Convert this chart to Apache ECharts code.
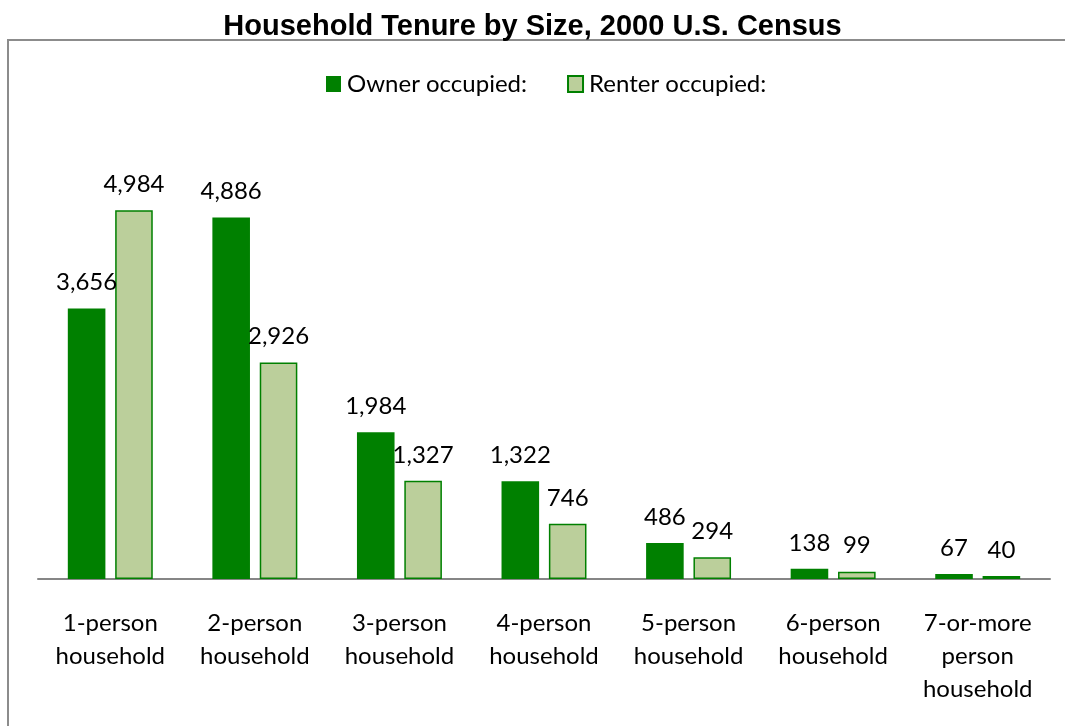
<!DOCTYPE html>
<html>
<head>
<meta charset="utf-8">
<script src="https://cdn.jsdelivr.net/npm/echarts@6/dist/echarts.min.js"></script>
<style>
    html, body { margin: 0; padding: 0; background: #fff; }
    #chart { width: 1065px; height: 726px; }
</style>
</head>
<body>
<div id="chart"></div>
<script>
    // 数据
    var categories = ['1-person\nhousehold', '2-person\nhousehold', '3-person\nhousehold', '4-person\nhousehold',
        '5-person\nhousehold', '6-person\nhousehold', '7-or-more\nperson\nhousehold'];
    var ownerValues = [3656, 4886, 1984, 1322, 486, 138, 67];
    var renterValues = [4984, 2926, 1327, 746, 294, 99, 40];

    var myChart = echarts.init(document.getElementById('chart'));
    var labelStyle = {
        show: true,
        position: 'top',
        distance: 14,
        color: '#000',
        fontFamily: 'Lato',
        fontSize: 24,
        formatter: function (p) { return p.value.toLocaleString('en-US'); }
    };
    var option = {
        animation: false,
        title: {
            text: 'Household Tenure by Size, 2000 U.S. Census',
            left: 'center',
            top: 7,
            textStyle: { fontFamily: 'Liberation Sans', fontWeight: 'bold', fontSize: 29, color: '#000' }
        },
        // 外框
        graphic: [{
            type: 'rect',
            shape: { x: 8, y: 40, width: 1070, height: 700 },
            style: { fill: 'none', stroke: '#8c8c8c', lineWidth: 2 },
            silent: true
        }],
        legend: {
            top: 67,
            left: 321,
            icon: 'rect',
            itemWidth: 15,
            itemHeight: 16,
            itemGap: 40,
            textStyle: { fontFamily: 'Lato', fontSize: 24, color: '#000', padding: [0, 0, 0, 1] },
            data: ['Owner occupied:', 'Renter occupied:']
        },
        grid: { left: 38, right: 15, top: 135, bottom: 147 },
        xAxis: {
            type: 'category',
            data: categories,
            axisLine: { lineStyle: { color: '#868686', width: 2 } },
            axisTick: { show: false },
            axisLabel: {
                interval: 0,
                margin: 28,
                color: '#000',
                fontFamily: 'Lato',
                fontSize: 24,
                lineHeight: 33
            }
        },
        yAxis: {
            type: 'value',
            min: 0,
            max: 6000,
            show: false
        },
        series: [{
            name: 'Owner occupied:',
            type: 'bar',
            data: ownerValues,
            barWidth: '26%',
            barGap: '26%',
            itemStyle: { color: '#008000' },
            label: labelStyle
        }, {
            name: 'Renter occupied:',
            type: 'bar',
            data: renterValues,
            barWidth: '26%',
            itemStyle: { color: '#bbcf9b', borderColor: '#008000', borderWidth: 1.5 },
            label: labelStyle
        }]
    };
    myChart.setOption(option);
</script>
</body>
</html>
